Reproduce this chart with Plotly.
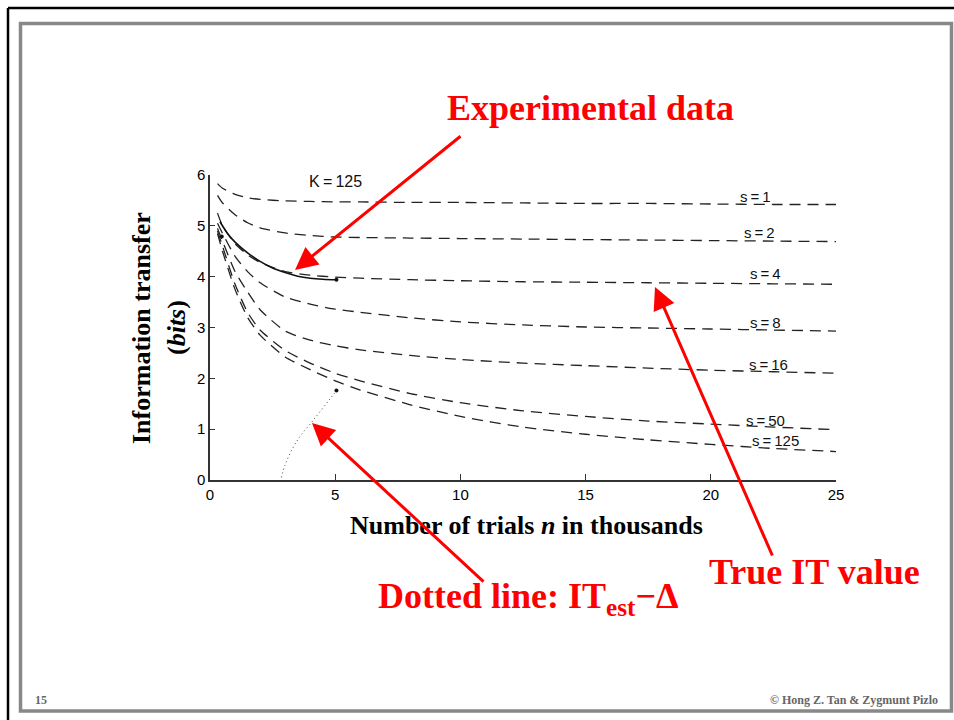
import plotly.graph_objects as go

# ---------------- data ----------------
x_grid = [0.3, 0.5, 1, 1.5, 2, 3, 4, 5, 6, 8, 10, 12.5, 15, 17.5, 20, 22.5, 25]
s_names = ["s\u2009=\u20091", "s\u2009=\u20092", "s\u2009=\u20094", "s\u2009=\u20098",
           "s\u2009=\u200916", "s\u2009=\u200950", "s\u2009=\u2009125"]
s1 = [5.83, 5.74, 5.62, 5.55, 5.52, 5.49, 5.48, 5.47, 5.47, 5.46, 5.46, 5.45, 5.44, 5.44, 5.43, 5.42, 5.42]
s2 = [5.60, 5.45, 5.22, 5.06, 4.96, 4.86, 4.81, 4.78, 4.77, 4.76, 4.75, 4.74, 4.73, 4.72, 4.71, 4.70, 4.69]
s4 = [5.25, 5.00, 4.65, 4.43, 4.28, 4.10, 4.03, 3.99, 3.97, 3.94, 3.92, 3.90, 3.89, 3.88, 3.87, 3.86, 3.85]
s8 = [5.05, 4.85, 4.40, 4.10, 3.88, 3.60, 3.46, 3.36, 3.30, 3.19, 3.11, 3.05, 3.01, 2.99, 2.97, 2.95, 2.93]
s16 = [4.95, 4.70, 4.10, 3.70, 3.35, 2.93, 2.75, 2.64, 2.56, 2.45, 2.37, 2.30, 2.25, 2.20, 2.16, 2.13, 2.10]
s50 = [4.90, 4.60, 3.85, 3.30, 2.95, 2.55, 2.30, 2.10, 1.95, 1.70, 1.52, 1.36, 1.25, 1.16, 1.10, 1.04, 0.99]
s125 = [4.85, 4.50, 3.75, 3.20, 2.85, 2.42, 2.17, 1.95, 1.77, 1.48, 1.25, 1.04, 0.90, 0.79, 0.70, 0.62, 0.56]
s_series = [s1, s2, s4, s8, s16, s50, s125]
s_label_x = [21.8, 21.95, 22.2, 22.2, 22.3, 22.2, 22.6]
s_label_y = [5.57, 4.86, 4.07, 3.09, 2.28, 1.18, 0.77]

exp_x = [0.4, 0.7, 1.0, 1.5, 2.0, 2.5, 3.0, 3.5, 4.0, 4.5, 5.05]
exp_y = [5.08, 4.85, 4.68, 4.47, 4.30, 4.17, 4.08, 4.01, 3.97, 3.95, 3.94]
exp_pts_x = [0.47, 5.05]
exp_pts_y = [4.79, 3.94]

dot_x = [2.85, 3.0, 3.3, 3.6, 4.0, 4.4, 4.8, 5.05]
dot_y = [0.05, 0.30, 0.62, 0.86, 1.10, 1.35, 1.60, 1.76]

x_ticks = [0, 5, 10, 15, 20, 25]
y_ticks = [0, 1, 2, 3, 4, 5, 6]

# ---------------- layout helpers ----------------
W, H = 954, 720
L, R, T, B = 210, 836, 175, 480


def px(x):
    return (x - L) / (R - L)


def py(y):
    return (B - y) / (B - T)


fig = go.Figure()

for name, ys in zip(s_names, s_series):
    fig.add_trace(go.Scatter(x=x_grid, y=ys, mode="lines", name=name,
                             line=dict(color="#222", width=1.3, dash="11px,7px", shape="spline", smoothing=0.6),
                             showlegend=False, hoverinfo="skip"))

fig.add_trace(go.Scatter(x=exp_x, y=exp_y, mode="lines", line=dict(color="#111", width=1.6, shape="spline"),
                         showlegend=False))
fig.add_trace(go.Scatter(x=exp_pts_x, y=exp_pts_y, mode="markers", marker=dict(color="#111", size=4),
                         showlegend=False))
fig.add_trace(go.Scatter(x=dot_x, y=dot_y, mode="lines", line=dict(color="#444", width=1, dash="1px,3px", shape="spline"),
                         showlegend=False))
fig.add_trace(go.Scatter(x=[dot_x[-1]], y=[dot_y[-1]], mode="markers", marker=dict(color="#111", size=4),
                         showlegend=False))

ann = []
for lab, lx, ly in zip(s_names, s_label_x, s_label_y):
    ann.append(dict(x=lx, y=ly, xref="x", yref="y", text=lab, showarrow=False,
                    xanchor="center", yanchor="middle",
                    font=dict(family="Liberation Sans", size=15, color="#111")))
ann.append(dict(x=5.0, y=5.88, xref="x", yref="y", text="K\u2009=\u2009125", showarrow=False,
                xanchor="center", yanchor="middle",
                font=dict(family="Liberation Sans", size=16, color="#111")))

serif = "Liberation Serif"


def ptext(x, y, text, size, color, angle=0, xanchor="center"):
    return dict(x=px(x), y=py(y), xref="paper", yref="paper", text=text, showarrow=False,
                xanchor=xanchor, yanchor="middle", textangle=angle,
                font=dict(family=serif, size=size, color=color))


# axis titles
ann.append(ptext(526, 525, "<b>Number of trials <i>n</i> in thousands</b>", 26, "black"))
ann.append(ptext(141, 328, "<b>Information transfer</b>", 26, "black", angle=-90))
ann.append(ptext(176, 328, "<b>(<i>bits</i>)</b>", 26, "black", angle=-90))

# red callouts
red = "#ff0000"
ann.append(ptext(590, 108, "<b>Experimental data</b>", 36, red))
ann.append(ptext(814, 572, "<b>True IT value</b>", 36, red))
ann.append(ptext(528, 598, "<b>Dotted line: IT<sub>est</sub>\u2212\u0394</b>", 36, red))

arrows = [((462, 135), (295, 270)), ((773, 557), (655, 287)), ((485, 583), (312, 423))]
for (tx, ty), (hx, hy) in arrows:
    ann.append(dict(x=px(hx), y=py(hy), xref="paper", yref="paper", ax=tx - hx, ay=ty - hy,
                    text="", showarrow=True, arrowhead=2, arrowsize=1.5, arrowwidth=3,
                    arrowcolor=red))

# footer
ann.append(ptext(33, 700, "<b>15</b>", 12, "#666", xanchor="left"))
ann.append(ptext(940, 700, "<b>\u00a9 Hong Z. Tan &amp; Zygmunt Pizlo</b>", 12, "#666", xanchor="right"))

shapes = [
    # outer black frame (top and left)
    dict(type="line", xref="paper", yref="paper", x0=px(8), y0=py(8), x1=px(960), y1=py(8),
         line=dict(color="black", width=2.5)),
    dict(type="line", xref="paper", yref="paper", x0=px(8), y0=py(8), x1=px(8), y1=py(730),
         line=dict(color="black", width=2.5)),
    # inner gray frame
    dict(type="rect", xref="paper", yref="paper", x0=px(20.5), y0=py(23.5), x1=px(951.5), y1=py(711),
         line=dict(color="#888", width=3.5)),
]

fig.update_layout(
    width=W, height=H,
    margin=dict(l=L, r=W - R, t=T, b=H - B),
    paper_bgcolor="white", plot_bgcolor="white",
    annotations=ann, shapes=shapes,
    xaxis=dict(range=[0, 25], tickvals=x_ticks, ticktext=[str(v) for v in x_ticks],
               showgrid=False, zeroline=False, showline=True, linecolor="#333", linewidth=1.5,
               ticks="inside", ticklen=6, tickcolor="#333",
               tickfont=dict(family="Liberation Sans", size=15, color="black")),
    yaxis=dict(range=[0, 6], tickvals=y_ticks, ticktext=[str(v) for v in y_ticks],
               showgrid=False, zeroline=False, showline=True, linecolor="#333", linewidth=1.5,
               ticks="inside", ticklen=5, tickcolor="#333",
               tickfont=dict(family="Liberation Sans", size=15, color="black")),
    showlegend=False,
)

fig.write_html("out.html")
